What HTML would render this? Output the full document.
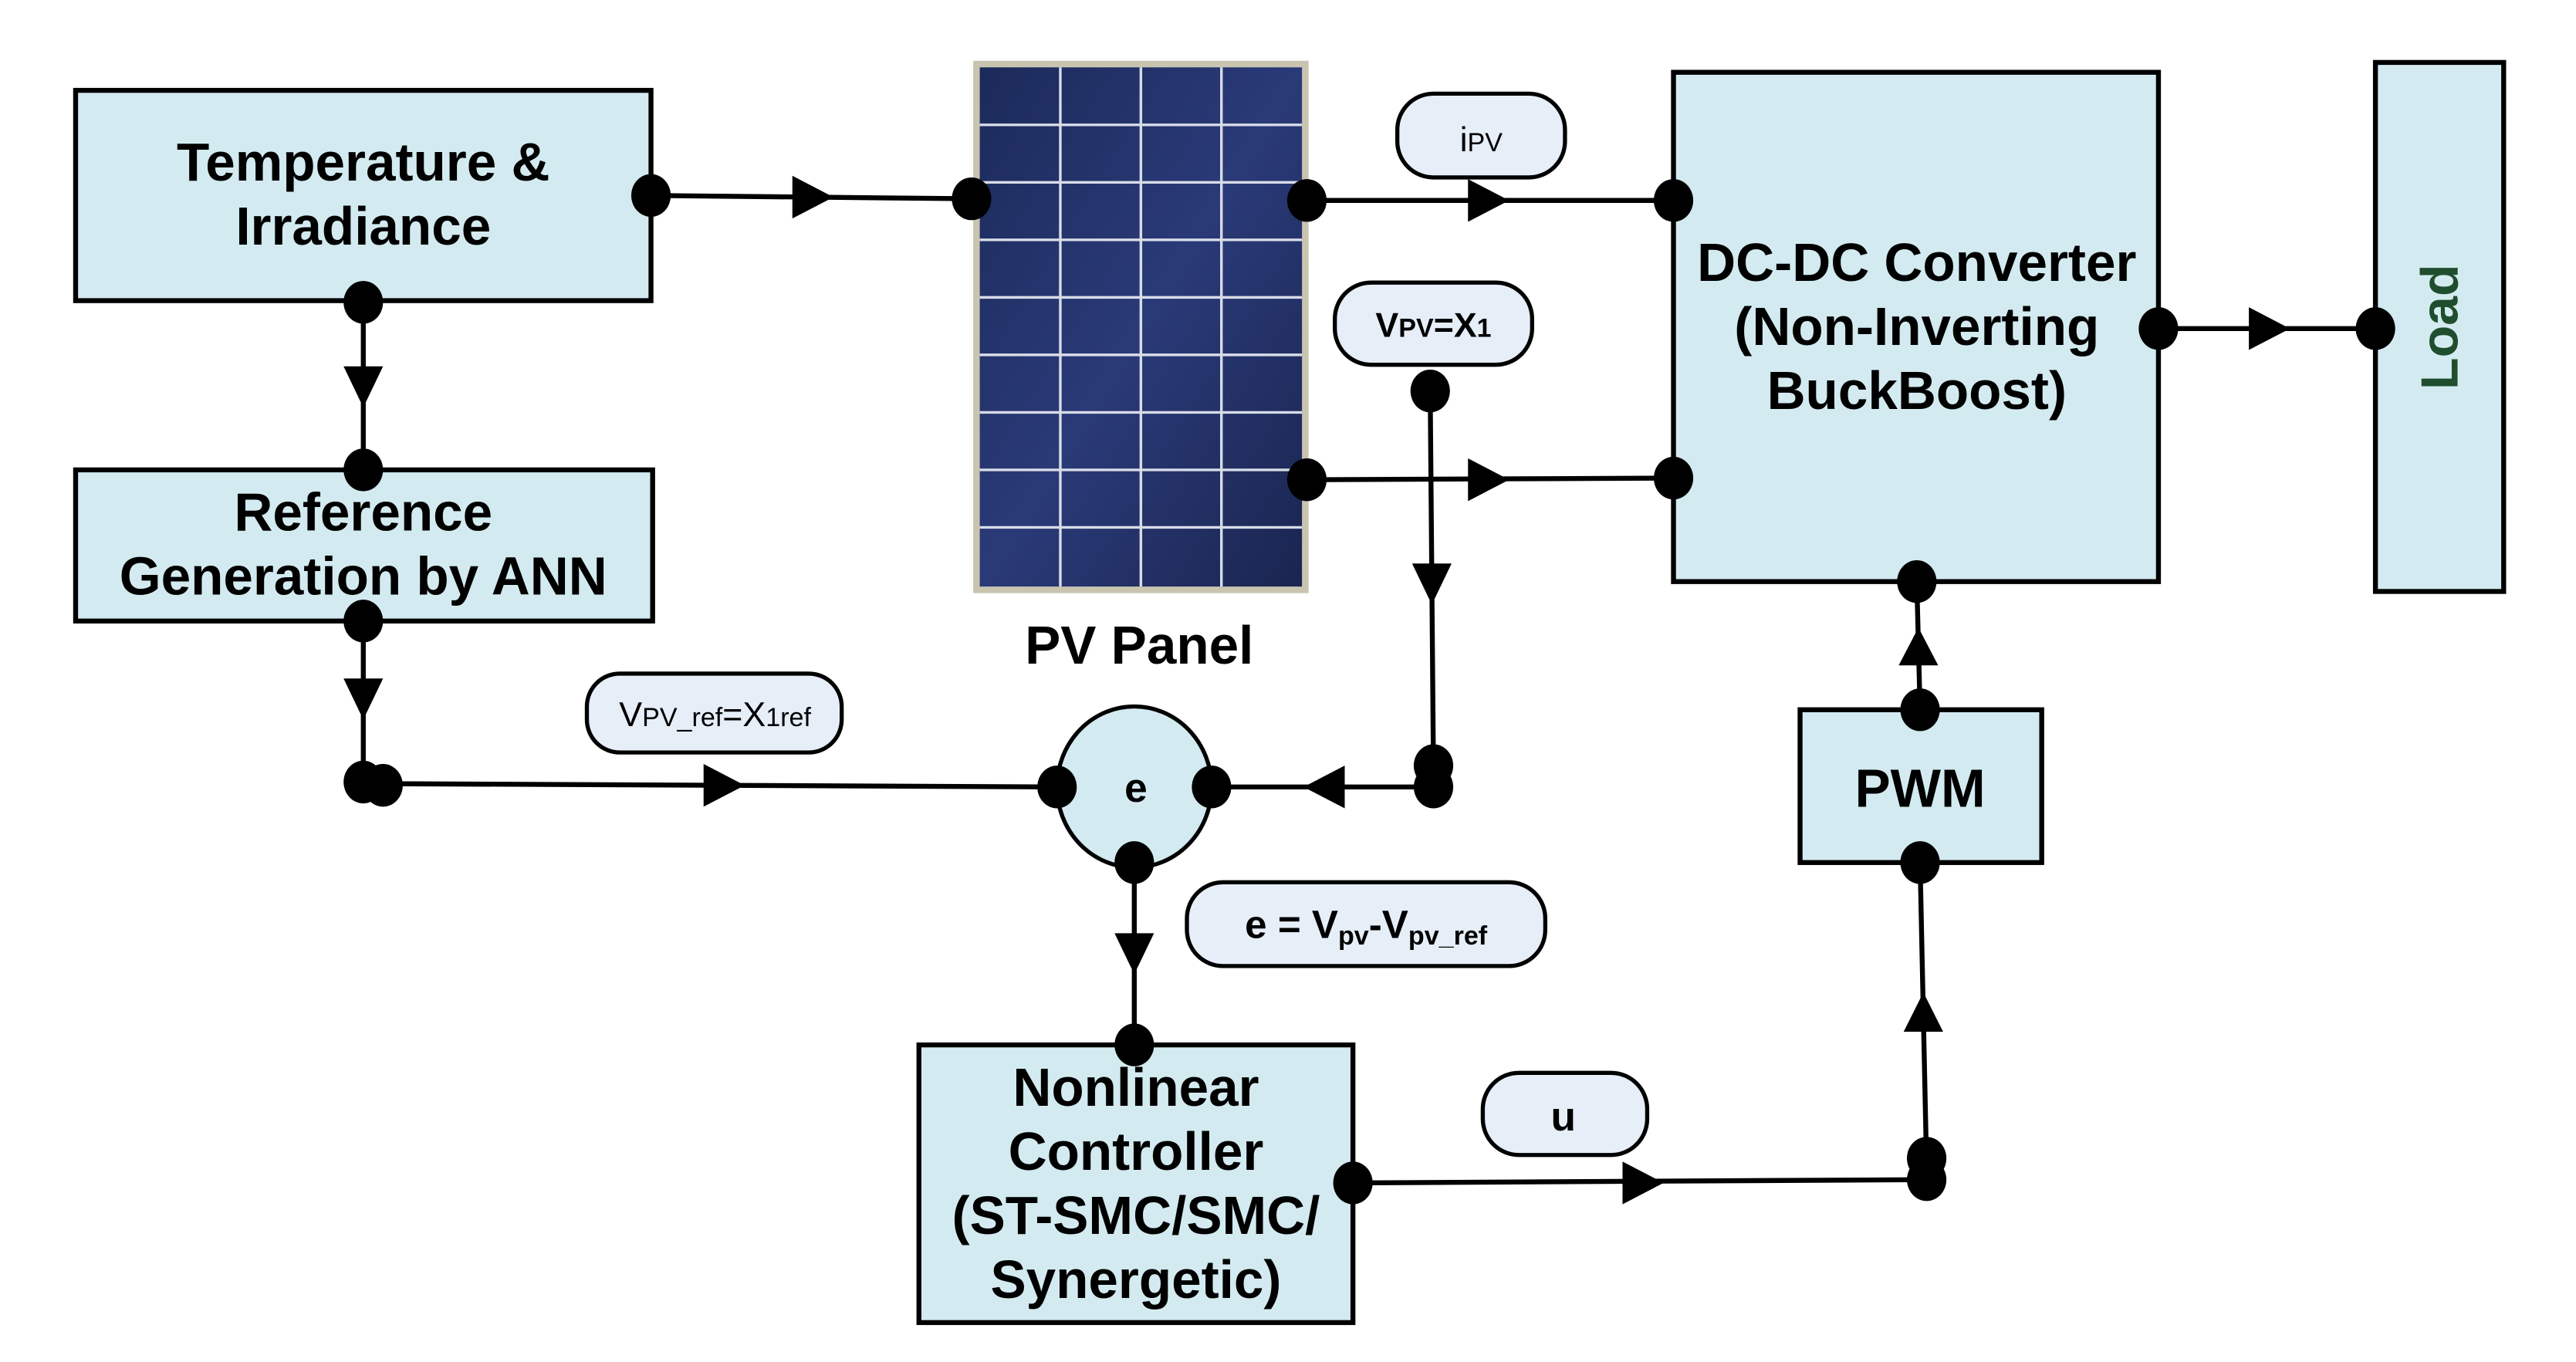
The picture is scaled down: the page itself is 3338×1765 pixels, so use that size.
<!DOCTYPE html>
<html><head><meta charset="utf-8"><style>
html,body{margin:0;padding:0;background:#fff;}
svg{display:block;}
text{font-family:"Liberation Sans",Arial,sans-serif;}
</style></head><body>
<svg width="3338" height="1765" viewBox="0 0 1567 829" preserveAspectRatio="none" xmlns="http://www.w3.org/2000/svg">
<defs>
<linearGradient id="pv" x1="0" y1="0" x2="1" y2="1">
<stop offset="0" stop-color="#1c2a5a"/><stop offset="0.5" stop-color="#2a3a78"/><stop offset="1" stop-color="#1a2550"/>
</linearGradient>
</defs>
<g stroke="#000" stroke-width="3">
<rect x="46" y="55" width="350" height="128" fill="#d3ebf0"/>
<rect x="46" y="286" width="351" height="92" fill="#d3ebf0"/>
<rect x="1018" y="44" width="295" height="310" fill="#d3ebf0"/>
<rect x="1445" y="38" width="78" height="322" fill="#d3ebf0"/>
<rect x="1095" y="432" width="147" height="93" fill="#d3ebf0"/>
<rect x="559" y="636" width="264" height="169" fill="#d3ebf0"/>
<ellipse cx="690" cy="479" rx="47" ry="49" fill="#d3ebf0" stroke-width="2.5"/>
</g>
<rect x="592" y="37" width="204" height="324" fill="#c8c4b0"/>
<rect x="596" y="41" width="196" height="316" fill="url(#pv)"/>
<g stroke="#d8dce8" stroke-width="1.6">
<line x1="645" y1="41" x2="645" y2="357"/><line x1="694" y1="41" x2="694" y2="357"/><line x1="743" y1="41" x2="743" y2="357"/>
<line x1="596" y1="76" x2="792" y2="76"/><line x1="596" y1="111" x2="792" y2="111"/><line x1="596" y1="146" x2="792" y2="146"/>
<line x1="596" y1="181" x2="792" y2="181"/><line x1="596" y1="216" x2="792" y2="216"/><line x1="596" y1="251" x2="792" y2="251"/>
<line x1="596" y1="286" x2="792" y2="286"/><line x1="596" y1="321" x2="792" y2="321"/>
</g>
<g stroke="#000" stroke-width="2.5" fill="#e6eef8">
<rect x="850" y="57" width="102" height="51" rx="22"/>
<rect x="812" y="172" width="120" height="50" rx="22"/>
<rect x="357" y="410" width="155" height="48" rx="20"/>
<rect x="722" y="537" width="218" height="51" rx="22"/>
<rect x="902" y="653" width="100" height="50" rx="22"/>
</g>
<g stroke="#000" stroke-width="3" fill="none">
<line x1="396" y1="119" x2="593" y2="121"/>
<line x1="221" y1="184" x2="221" y2="286"/>
<line x1="221" y1="378" x2="221" y2="476"/>
<line x1="233" y1="477" x2="643" y2="479"/>
<line x1="737" y1="479" x2="872" y2="479"/>
<line x1="870" y1="238" x2="872" y2="470"/>
<line x1="795" y1="122" x2="1018" y2="122"/>
<line x1="795" y1="292" x2="1018" y2="291"/>
<line x1="1313" y1="200" x2="1445" y2="200"/>
<line x1="1166" y1="354" x2="1168" y2="432"/>
<line x1="1168" y1="525" x2="1172" y2="712"/>
<line x1="823" y1="720" x2="1172" y2="718"/>
<line x1="690" y1="525" x2="690" y2="636"/>
</g>
<g fill="#000">
<polygon points="482,107 482,133 507,120"/>
<polygon points="209,223 233,223 221,248"/>
<polygon points="209,413 233,413 221,438"/>
<polygon points="428,465 428,491 453,478"/>
<polygon points="818,466 818,492 793,479"/>
<polygon points="859,343 883,343 871,368"/>
<polygon points="893,109 893,135 918,122"/>
<polygon points="893,279 893,305 918,292"/>
<polygon points="1368,187 1368,213 1393,200"/>
<polygon points="1155,405 1179,405 1167,382"/>
<polygon points="1158,628 1182,628 1170,604"/>
<polygon points="678,568 702,568 690,593"/>
<polygon points="987,707 987,733 1012,720"/>
</g>
<g fill="#000">
<ellipse cx="396" cy="119" rx="12" ry="13"/>
<ellipse cx="591" cy="121" rx="12" ry="13"/>
<ellipse cx="221" cy="184" rx="12" ry="13"/>
<ellipse cx="221" cy="286" rx="12" ry="13"/>
<ellipse cx="221" cy="378" rx="12" ry="13"/>
<ellipse cx="221" cy="476" rx="12" ry="13"/>
<ellipse cx="233" cy="478" rx="12" ry="13"/>
<ellipse cx="643" cy="479" rx="12" ry="13"/>
<ellipse cx="737" cy="479" rx="12" ry="13"/>
<ellipse cx="690" cy="525" rx="12" ry="13"/>
<ellipse cx="690" cy="636" rx="12" ry="13"/>
<ellipse cx="872" cy="466" rx="12" ry="13"/>
<ellipse cx="872" cy="479" rx="12" ry="13"/>
<ellipse cx="870" cy="238" rx="12" ry="13"/>
<ellipse cx="795" cy="122" rx="12" ry="13"/>
<ellipse cx="795" cy="292" rx="12" ry="13"/>
<ellipse cx="1018" cy="122" rx="12" ry="13"/>
<ellipse cx="1018" cy="291" rx="12" ry="13"/>
<ellipse cx="1313" cy="200" rx="12" ry="13"/>
<ellipse cx="1445" cy="200" rx="12" ry="13"/>
<ellipse cx="1166" cy="354" rx="12" ry="13"/>
<ellipse cx="1168" cy="432" rx="12" ry="13"/>
<ellipse cx="1168" cy="525" rx="12" ry="13"/>
<ellipse cx="1172" cy="705" rx="12" ry="13"/>
<ellipse cx="1172" cy="718" rx="12" ry="13"/>
<ellipse cx="823" cy="720" rx="12" ry="13"/>
</g>
<g font-weight="bold" font-size="32.5" text-anchor="middle" fill="#000">
<text x="221" y="110">Temperature &amp;</text>
<text x="221" y="149">Irradiance</text>
<text x="221" y="323">Reference</text>
<text x="221" y="362">Generation by ANN</text>
<text x="693" y="404">PV Panel</text>
<text x="1166" y="171">DC-DC Converter</text>
<text x="1166" y="210">(Non-Inverting</text>
<text x="1166" y="249">BuckBoost)</text>
<text x="1168" y="491">PWM</text>
<text x="691" y="673">Nonlinear</text>
<text x="691" y="712">Controller</text>
<text x="691" y="751">(ST-SMC/SMC/</text>
<text x="691" y="790">Synergetic)</text>
<text x="691" y="488" font-size="25">e</text>
<text x="951" y="688" font-size="25">u</text>
<text x="831" y="571" font-size="24">e = V<tspan font-size="16" dy="4">pv</tspan><tspan dy="-4">-V</tspan><tspan font-size="16" dy="4">pv_ref</tspan></text>
<text x="872" y="205" font-size="21">V<tspan font-size="16">PV</tspan>=X<tspan font-size="16">1</tspan></text>
<text transform="translate(1495,199) rotate(-90)" font-size="32" fill="#1f4d2e">Load</text>
</g>
<g font-size="21" text-anchor="middle" fill="#000">
<text x="901" y="92">i<tspan font-size="16">PV</tspan></text>
<text x="435" y="442">V<tspan font-size="16">PV_ref</tspan>=X<tspan font-size="16">1ref</tspan></text>
</g>
</svg>
</body></html>
